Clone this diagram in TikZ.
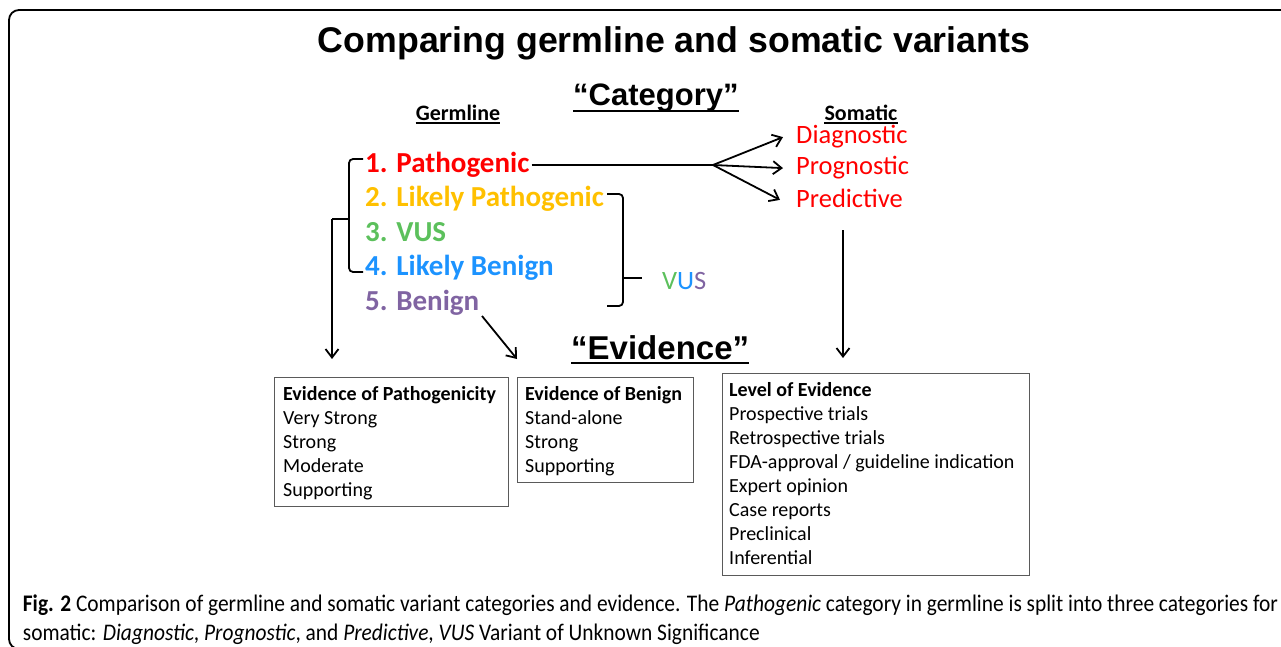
\documentclass[tikz,border=0pt]{standalone}
\usepackage{fontspec}
\usetikzlibrary{arrows.meta}
\setmainfont{Carlito}
\newfontfamily\arialfont{Liberation Sans}
\newfontfamily\capfont[FakeStretch=0.9]{Carlito}
\definecolor{pred}{HTML}{FF0000}
\definecolor{pgold}{HTML}{FFC000}
\definecolor{pgreen}{HTML}{5CC05C}
\definecolor{pblue}{HTML}{1C93FF}
\definecolor{ppurple}{HTML}{8064A2}
\definecolor{boxgray}{HTML}{5A5A5A}
\tikzset{
  conn/.style={line width=1.8pt, draw=black},
  arr/.style={conn, -{Straight Barb[length=8.5pt,width=13pt,line width=1.8pt]}},
  germ/.style={anchor=base west, inner sep=0, font=\bfseries\fontsize{29}{34}\selectfont},
  soma/.style={anchor=base west, inner sep=0, text=pred, font=\fontsize{26.5}{32}\selectfont},
  head/.style={anchor=base, inner sep=0, font=\bfseries\fontsize{22}{26}\selectfont},
  big/.style={anchor=base west, inner sep=0, font=\arialfont\bfseries\fontsize{31}{36}\selectfont},
  evbox/.style={draw=boxgray, line width=1.2pt, anchor=north west, inner sep=0},
  evtext/.style={anchor=base west, inner sep=0, font=\fontsize{20}{24}\selectfont}
}
\begin{document}
\begin{tikzpicture}[x=1pt,y=-1pt]
\useasboundingbox (0,0) rectangle (1281,647);
% frame
\draw[line width=1.8pt, rounded corners=10pt] (1300,10) -- (9,10) -- (9,649) -- (1300,649);
% title
\node[anchor=base, inner sep=0, font=\arialfont\bfseries\fontsize{35.7}{42}\selectfont] (title) at (674,53) {Comparing germline and somatic variants};
% Category
\node[big] (cat) at (573,106) {“Category”};
\draw[line width=2.4pt] ([yshift=-5pt]cat.base west) -- ([yshift=-5pt]cat.base east);
% headers
\node[head] (germl) at (458,120.7) {Germline};
\draw[line width=1.5pt] ([yshift=-2.3pt]germl.base west) -- ([yshift=-2.3pt]germl.base east);
\node[head] (somat) at (861,120.7) {Somatic};
\draw[line width=1.5pt] ([yshift=-2.3pt]somat.base west) -- ([yshift=-2.3pt]somat.base east);
% germline categories
\node[germ, text=pred] (p1) at (365,172) {1. Pathogenic};
\node[germ, text=pgold] (p2) at (365,206.5) {2. Likely Pathogenic};
\node[germ, text=pgreen] (p3) at (365,241) {3. VUS};
\node[germ, text=pblue] (p4) at (365,275.5) {4. Likely Benign};
\node[germ, text=ppurple] (p5) at (365,310) {5. Benign};
% somatic categories
\node[soma] (diag) at (796,144) {Diagnostic};
\node[soma] (prog) at (796,175) {Prognostic};
\node[soma] (predv) at (796,207) {Predictive};
% VUS
\node[anchor=base west, inner sep=0, font=\fontsize{26.5}{32}\selectfont] (vus) at (662,289) {\textcolor{pgreen}{V}\textcolor{pblue}{U}\textcolor{ppurple}{S}};
% split arrows
\coordinate (split) at (713,165);
\draw[conn] ([xshift=2pt,yshift=7pt]p1.base east) -- (split);
\draw[arr] (split) -- ([xshift=-13pt]diag.west);
\draw[arr] (split) -- ([xshift=-13pt]prog.west);
\draw[arr] (split) -- ([xshift=-16pt,yshift=-2pt]predv.west);
% left bracket
\coordinate (brL) at (332,219);
\draw[conn, rounded corners=4pt] (363,159) -- (349,159) -- (349,272) -- (363,272);
\draw[conn] (349,219) -- (brL);
% right bracket
\coordinate (brR) at (642,278);
\draw[conn, rounded corners=4pt] (607,194) -- (623,194) -- (623,306) -- (607,306);
\draw[conn] (623,278) -- (brR);
% Evidence
\node[big, font=\arialfont\bfseries\fontsize{33}{38}\selectfont] (evid) at (571,359) {“Evidence”};
\draw[line width=2.4pt] ([yshift=-4pt]evid.base west) -- ([yshift=-4pt]evid.base east);
% boxes
\node[evbox, minimum width=234pt, minimum height=129pt] (box1) at (274,377) {};
\node[evbox, minimum width=176pt, minimum height=105pt] (box2) at (517,377) {};
\node[evbox, minimum width=307pt, minimum height=202pt] (box3) at (722,373) {};
\node[evtext] (t1) at (283,400.7) {\begin{tabular}[t]{@{}l@{}}\textbf{Evidence of Pathogenicity}\\Very Strong\\Strong\\Moderate\\Supporting\end{tabular}};
\node[evtext] (t2) at (525,400.7) {\begin{tabular}[t]{@{}l@{}}\textbf{Evidence of Benign}\\Stand-alone\\Strong\\Supporting\end{tabular}};
\node[evtext] (t3) at (729,396) {\begin{tabular}[t]{@{}l@{}}\textbf{Level of Evidence}\\Prospective trials\\Retrospective trials\\FDA-approval / guideline indication\\Expert opinion\\Case reports\\Preclinical\\Inferential\end{tabular}};
% arrows down
\draw[arr, shorten >=18pt] (brL) -- (brL |- box1.north);
\coordinate (bstart) at (482,316);
\draw[arr] (bstart) -- ([yshift=18pt]box2.north west);
\coordinate (pdown) at (843,230);
\draw[arr] (pdown) -- ([yshift=15pt]pdown |- box3.north);
% caption
\node[anchor=base west, inner sep=0] (cap) at (22.7,611.7) {\resizebox{1255pt}{!}{\capfont\fontsize{21.7}{26.3}\selectfont\begin{tabular}[t]{@{}l@{}}\textbf{Fig. 2} Comparison of germline and somatic variant categories and evidence. The \textit{Pathogenic} category in germline is split into three categories for\\somatic: \textit{Diagnostic}, \textit{Prognostic}, and \textit{Predictive}, \textit{VUS} Variant of Unknown Significance\end{tabular}}};
\end{tikzpicture}
\end{document}
